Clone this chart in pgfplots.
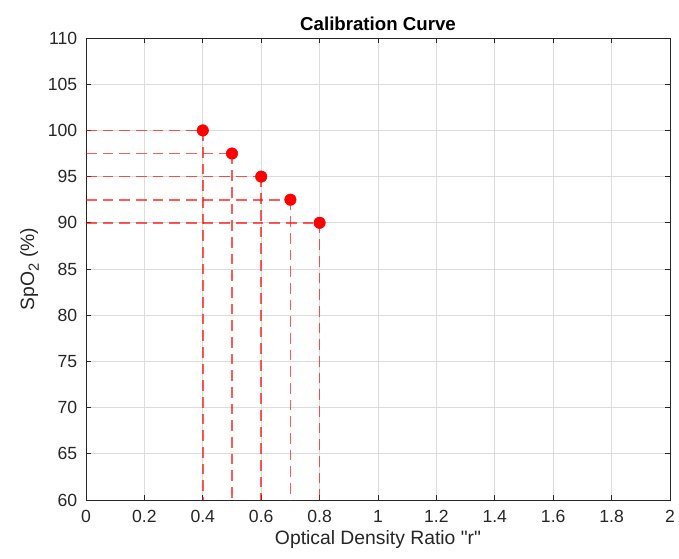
\documentclass[border=0pt]{standalone}
\usepackage{pgfplots}
\pgfplotsset{compat=1.18}
\usepackage{fontspec}
\setmainfont{Liberation Sans}
\definecolor{axgray}{HTML}{262626}
\definecolor{gridgray}{HTML}{DCDCDC}
\begin{document}
\begin{tikzpicture}
% overall canvas: 679 x 558 px at 0.75 pt per px
\path[use as bounding box] (-64.5pt,-43.5pt) rectangle (444.75pt,375pt);
\begin{axis}[
  scale only axis,
  width=438pt, height=346.5pt,
  xmin=0, xmax=2, ymin=60, ymax=110,
  xtick distance=0.2, ytick distance=5,
  grid=major,
  major grid style={gridgray, line width=0.5pt},
  axis line style={axgray, line width=0.6pt},
  tick style={axgray, line width=0.6pt},
  tick align=inside,
  major tick length=4pt,
  xtick pos=both, ytick pos=both,
  /pgf/number format/assume math mode=true,
  ticklabel style={font=\fontsize{13.2}{15}\selectfont, text=axgray},
  xticklabel style={yshift=-4pt},
  yticklabel style={xshift=-3pt},
  title={\textbf{Calibration Curve}},
  title style={font=\fontsize{14}{16}\selectfont, text=black, yshift=-4pt},
  xlabel={Optical Density Ratio \textquotedbl r\textquotedbl},
  ylabel={SpO\raisebox{-0.45ex}{\fontsize{11}{12}\selectfont 2} (\%)},
  label style={font=\fontsize{14.5}{16}\selectfont, text=axgray},
  xlabel style={yshift=1pt},
  ylabel style={yshift=0pt},
  clip=false,
]
% guide lines to both axes
\pgfplotsset{guide/.style={red, opacity=0.65, line width=1.2pt, dash pattern=on 8pt off 4.5pt, forget plot}}
\addplot[guide] coordinates {(0,100) (0.4,100)};
\addplot[guide] coordinates {(0,97.5) (0.5,97.5)};
\addplot[guide] coordinates {(0,95) (0.6,95)};
\addplot[guide] coordinates {(0,92.5) (0.7,92.5)};
\addplot[guide] coordinates {(0,90) (0.8,90)};
\addplot[guide] coordinates {(0.4,100) (0.4,60)};
\addplot[guide] coordinates {(0.5,97.5) (0.5,60)};
\addplot[guide] coordinates {(0.6,95) (0.6,60)};
\addplot[guide] coordinates {(0.7,92.5) (0.7,60)};
\addplot[guide] coordinates {(0.8,90) (0.8,60)};
% calibration points
\addplot[only marks, mark=*, mark size=4.3pt, red, mark options={draw=red, fill=red}]
  coordinates {(0.4,100) (0.5,97.5) (0.6,95) (0.7,92.5) (0.8,90)};
\end{axis}
\end{tikzpicture}
\end{document}
